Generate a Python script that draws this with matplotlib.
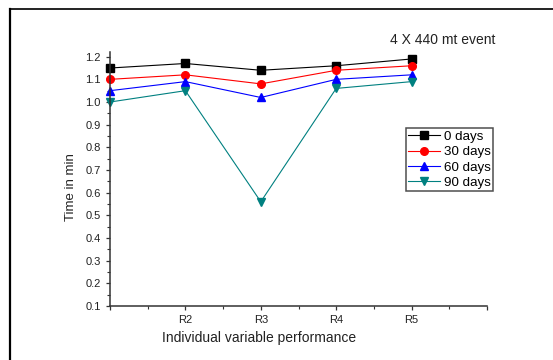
import matplotlib
matplotlib.use("Agg")
import matplotlib.pyplot as plt
from matplotlib.lines import Line2D

plt.rcParams['font.family'] = ['Liberation Sans', 'DejaVu Sans']

categories = ["", "R2", "R3", "R4", "R5", ""]
x_points = [1, 2, 3, 4, 5]
series_names = ["0 days", "30 days", "60 days", "90 days"]
days0 = [1.15, 1.17, 1.14, 1.16, 1.19]
days30 = [1.10, 1.12, 1.08, 1.14, 1.16]
days60 = [1.05, 1.09, 1.02, 1.10, 1.12]
days90 = [1.00, 1.05, 0.56, 1.06, 1.09]
yticks = [0.1, 0.2, 0.3, 0.4, 0.5, 0.6, 0.7, 0.8, 0.9, 1.0, 1.1, 1.2]

W, H = 553, 360
fig = plt.figure(figsize=(W / 100, H / 100), dpi=100)
ax_l, ax_r, ax_b, ax_t = 110, 487, 306, 51.7
ax = fig.add_axes([ax_l / W, 1 - ax_b / H, (ax_r - ax_l) / W, (ax_b - ax_t) / H])

styles = [
    (days0, 'black', 's'),
    (days30, 'red', 'o'),
    (days60, 'blue', '^'),
    (days90, '#008080', 'v'),
]
for (vals, col, mk), name in zip(styles, series_names):
    ax.plot(x_points, vals, color=col, marker=mk, markersize=5.5, lw=0.8,
            label=name, clip_on=False)

ax.set_xlim(1, 6)
ax.set_ylim(0.1, 1.222)
ax.set_xticks(range(1, 7))
ax.set_xticklabels(categories)
ax.set_xticks([1.5, 2.5, 3.5, 4.5, 5.5], minor=True)
ax.set_yticks(yticks)
ax.set_yticklabels([f"{v:.1f}" for v in yticks])
ax.set_yticks([0.15 + 0.1 * i for i in range(11)], minor=True)

for s in ['top', 'right']:
    ax.spines[s].set_visible(False)
for s in ['left', 'bottom']:
    ax.spines[s].set_linewidth(1.1)
    ax.spines[s].set_color('#333333')
ax.tick_params(axis='both', which='major', direction='out', length=3.2,
               width=0.9, labelsize=8, colors='#333333', labelcolor='#222222')
ax.tick_params(axis='both', which='minor', direction='out', length=2,
               width=0.8, colors='#333333')
ax.tick_params(axis='x', which='major', pad=3.5)
ax.tick_params(axis='y', which='major', pad=3.5)

ax.set_xlabel("Individual variable performance", fontsize=10, color='#222222')
ax.xaxis.set_label_coords((258.6 - ax_l) / (ax_r - ax_l), -(331 - ax_b) / (ax_b - ax_t))
ax.set_ylabel("Time in min", fontsize=9.5, color='#222222')
ax.yaxis.set_label_coords(-(ax_l - 77) / (ax_r - ax_l), (ax_b - 187) / (ax_b - ax_t))

leg = ax.legend(loc='upper left', bbox_to_anchor=(0.784, 0.70), fontsize=9.6,
                frameon=True, fancybox=False, handlelength=2.4,
                handletextpad=0.25, labelspacing=0.22, borderpad=0.2,
                borderaxespad=0)
leg.get_frame().set_edgecolor('#222222')
leg.get_frame().set_linewidth(1.1)

fig.text(443 / W, 1 - 40 / H, "4 X 440 mt event", fontsize=10, ha='center',
         va='center', color='#222222')

# outer border (top and left only visible)
fig.add_artist(Line2D([9.5 / W, 1.0], [1 - 9 / H, 1 - 9 / H],
                      transform=fig.transFigure, color='#111111', lw=1.3))
fig.add_artist(Line2D([10 / W, 10 / W], [0.0, 1 - 9 / H],
                      transform=fig.transFigure, color='#000000', lw=1.6))

fig.savefig("out.png", dpi=100)
